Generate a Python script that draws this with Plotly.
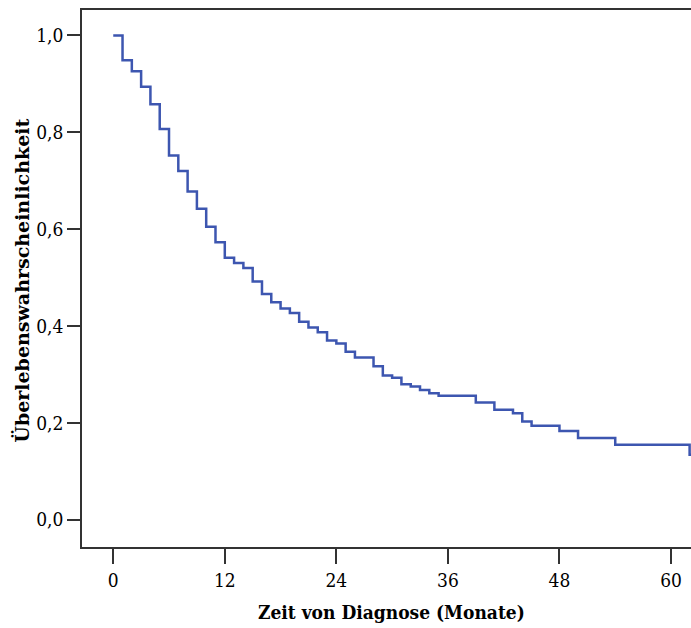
import plotly.graph_objects as go

# Kaplan-Meier step data (months, survival probability)
times = [0, 1, 2, 3, 4, 5, 6, 7, 8, 9, 10, 11, 12, 13, 14, 15, 16, 17, 18, 19, 20,
         21, 22, 23, 24, 25, 26, 28, 29, 30, 31, 32, 33, 34, 35, 39, 41, 43, 44, 45,
         48, 50, 54, 62]
surv = [1.0, 0.949, 0.926, 0.894, 0.858, 0.807, 0.752, 0.720, 0.678, 0.642,
        0.605, 0.573, 0.541, 0.530, 0.520, 0.492, 0.466, 0.449, 0.436, 0.427,
        0.409, 0.397, 0.387, 0.370, 0.364, 0.347, 0.335, 0.317, 0.298, 0.293,
        0.280, 0.275, 0.268, 0.261, 0.256, 0.242, 0.227, 0.220, 0.203, 0.194,
        0.183, 0.169, 0.155, 0.134]
follow_up_end = 62.5

x_ticks = [0, 12, 24, 36, 48, 60]
y_ticks = [0.0, 0.2, 0.4, 0.6, 0.8, 1.0]
x_title = "Zeit von Diagnose (Monate)"
y_title = "Überlebenswahrscheinlichkeit"

xs = times + [follow_up_end]
ys = surv + [surv[-1]]

fig = go.Figure()
fig.add_trace(go.Scatter(
    x=xs, y=ys, mode="lines", line_shape="hv",
    line=dict(color="#3d56b0", width=2.5), hoverinfo="skip", showlegend=False,
))

fig.update_layout(
    width=691, height=628,
    margin=dict(l=82, r=0, t=10, b=81),
    paper_bgcolor="white", plot_bgcolor="white",
    separators=",.",
    font=dict(family="DejaVu Serif", color="black"),
    showlegend=False,
    annotations=[
        dict(text=x_title, xref="paper", yref="paper", x=0.509, y=-0.121,
             xanchor="center", yanchor="middle", showarrow=False,
             font=dict(family="DejaVu Serif Condensed", size=19, color="black", weight="bold")),
        dict(text=y_title, xref="paper", yref="paper", x=-0.0985, y=0.496,
             xanchor="center", yanchor="middle", showarrow=False, textangle=-90,
             font=dict(family="DejaVu Serif", size=19, color="black", weight="bold")),
    ],
)
fig.update_xaxes(
    range=[-3.36, 62.15], tickvals=x_ticks, ticktext=[str(v) for v in x_ticks],
    showgrid=False, zeroline=False, showline=True, linecolor="#333333", linewidth=1.5,
    mirror=True, ticks="outside", ticklen=15, tickwidth=1.5, tickcolor="#333333",
    tickfont=dict(family="DejaVu Serif Condensed", size=19, color="black"),
)
fig.update_yaxes(
    range=[-0.0563, 1.0526], tickvals=y_ticks, tickformat=".1f",
    showgrid=False, zeroline=False, showline=True, linecolor="#333333", linewidth=1.5,
    ticks="outside", ticklen=13, tickwidth=1.5, tickcolor="#333333",
    tickfont=dict(family="DejaVu Serif Condensed", size=19, color="black"),
)

fig.write_html("out.html", config={"displayModeBar": False})
